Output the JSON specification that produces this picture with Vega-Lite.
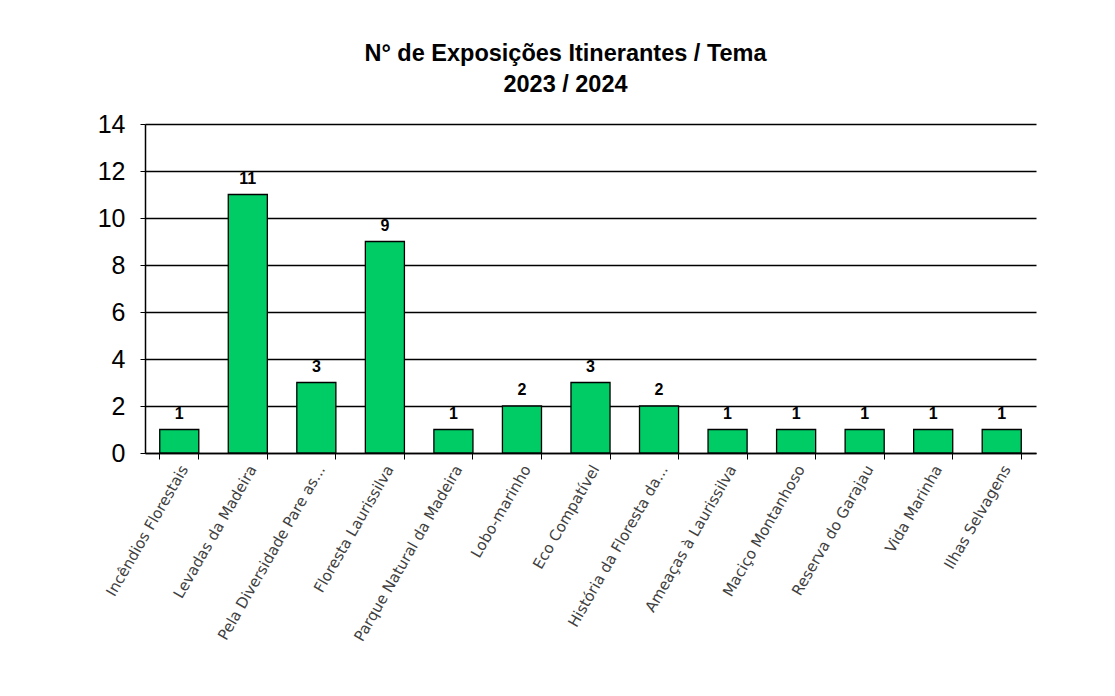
{
  "$schema": "https://vega.github.io/schema/vega-lite/v6.json",
  "width": 891,
  "height": 329,
  "autosize": {"type": "none"},
  "padding": {"left": 145, "top": 124, "right": 79, "bottom": 243},
  "background": "white",
  "title": {
    "text": ["N° de Exposições Itinerantes / Tema", "2023 / 2024"],
    "font": "Liberation Sans",
    "fontSize": 23.5,
    "fontWeight": "bold",
    "color": "#000000",
    "lineHeight": 31,
    "anchor": "middle",
    "dx": -25,
    "offset": 16
  },
  "data": {
    "values": [
      {"tema": "Incêndios Florestais", "n": 1},
      {"tema": "Levadas da Madeira", "n": 11},
      {"tema": "Pela Diversidade Pare as...", "n": 3},
      {"tema": "Floresta Laurissilva", "n": 9},
      {"tema": "Parque Natural da Madeira", "n": 1},
      {"tema": "Lobo-marinho", "n": 2},
      {"tema": "Eco Compatível", "n": 3},
      {"tema": "História da Floresta da...", "n": 2},
      {"tema": "Ameaças à Laurissilva", "n": 1},
      {"tema": "Maciço Montanhoso", "n": 1},
      {"tema": "Reserva do Garajau", "n": 1},
      {"tema": "Vida Marinha", "n": 1},
      {"tema": "Ilhas Selvagens", "n": 1}
    ]
  },
  "encoding": {
    "x": {
      "field": "tema",
      "type": "nominal",
      "sort": null,
      "scale": {"paddingInner": 0.43, "paddingOuter": 0.215},
      "axis": {
        "title": null,
        "labelAngle": -60,
        "labelFont": "DejaVu Sans",
        "labelFontSize": 15,
        "labelColor": "#404040",
        "labelPadding": 7,
        "bandPosition": 1,
        "tickExtra": true,
        "labelOffset": 5,
        "tickColor": "#000000",
        "tickSize": 6,
        "domainColor": "#000000",
        "domainWidth": 1.5,
        "grid": false,
        "labelLimit": 300
      }
    },
    "y": {
      "field": "n",
      "type": "quantitative",
      "scale": {"domain": [0, 14]},
      "axis": {
        "title": null,
        "values": [0, 2, 4, 6, 8, 10, 12, 14],
        "labelFont": "Liberation Sans",
        "labelFontSize": 25,
        "labelColor": "#000000",
        "labelPadding": 15,
        "tickColor": "#000000",
        "tickSize": 5,
        "domainColor": "#000000",
        "domainWidth": 1.5,
        "grid": true,
        "gridColor": "#000000",
        "gridWidth": 1.3,
        "gridOpacity": 1
      }
    }
  },
  "layer": [
    {
      "mark": {"type": "bar", "fill": "#00CC66", "stroke": "#000000", "strokeWidth": 1.3}
    },
    {
      "mark": {
        "type": "text",
        "baseline": "bottom",
        "dy": -8,
        "font": "Liberation Sans",
        "fontSize": 16,
        "fontWeight": "bold",
        "color": "#000000"
      },
      "encoding": {"text": {"field": "n", "type": "quantitative"}}
    }
  ],
  "config": {
    "view": {"stroke": null}
  }
}
